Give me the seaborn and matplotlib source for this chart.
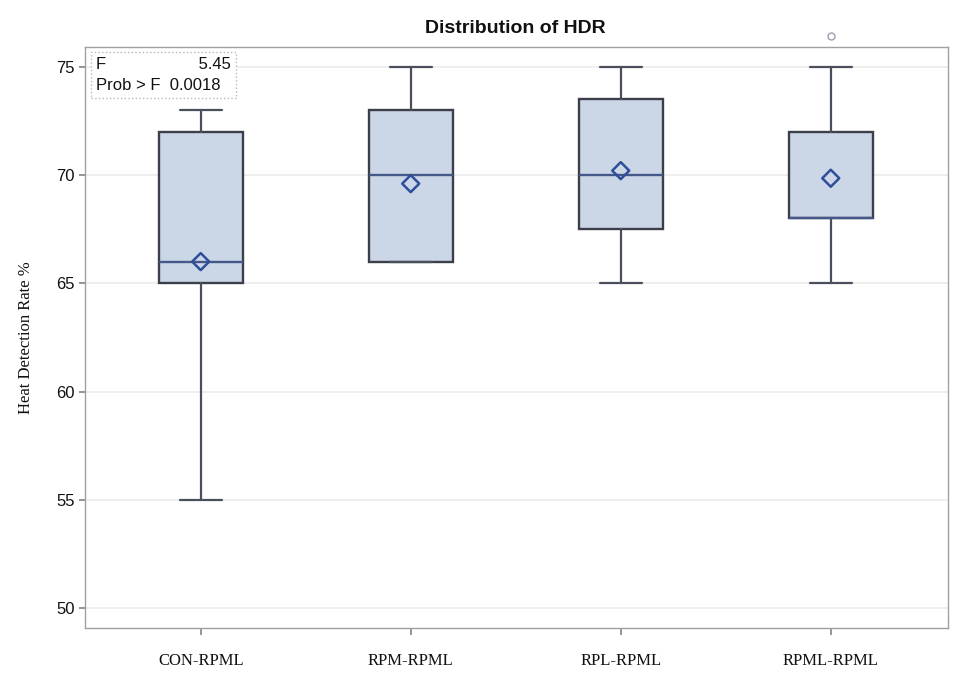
import numpy as np
import pandas as pd
import matplotlib
matplotlib.use('Agg')
import matplotlib.pyplot as plt
import seaborn as sns

# summary values
groups = ['CON-RPML', 'RPM-RPML', 'RPL-RPML', 'RPML-RPML']
whisker_low = [55, 66, 65, 65]
q1 = [65, 66, 67.5, 68]
median = [66, 70, 70, 68]
q3 = [72, 73, 73.5, 72]
whisker_high = [73, 75, 75, 75]
means = [66.0, 69.6, 70.2, 69.85]
outliers = [[], [], [], [76.4]]

f_value = '5.45'
prob_f = '0.0018'

sns.set_theme(style='white')
plt.rcParams['text.color'] = '#111111'

fig = plt.figure(figsize=(9.57, 6.83), dpi=100)
ax = fig.add_axes([0.089, 0.0805, 0.902, 0.851])

stats = []
for i, g in enumerate(groups):
    stats.append(dict(label=g, whislo=whisker_low[i], q1=q1[i], med=median[i],
                      q3=q3[i], whishi=whisker_high[i], fliers=outliers[i]))

edge = '#4a4f5c'
ax.bxp(stats, positions=range(len(groups)), widths=0.4, patch_artist=True,
       showfliers=True, manage_ticks=False,
       boxprops=dict(facecolor='#cbd6e6', edgecolor='#3c3f4a', linewidth=1.7),
       medianprops=dict(color='#44598a', linewidth=1.7),
       whiskerprops=dict(color=edge, linewidth=1.6),
       capprops=dict(color=edge, linewidth=1.6),
       capwidths=0.2,
       flierprops=dict(marker='o', markersize=5, markerfacecolor='none',
                       markeredgecolor='#9aa0ab', markeredgewidth=1.0))
for art in ax.lines:
    art.set_clip_on(False)

mean_df = pd.DataFrame({'pos': np.arange(len(groups)), 'mean': means})
sns.scatterplot(data=mean_df, x='pos', y='mean', marker='D', s=75,
                facecolor='none', edgecolor='#2f4e9a', linewidth=1.8,
                ax=ax, zorder=5, legend=False)

ax.set_xlim(-0.55, 3.56)
ax.set_ylim(49.08, 75.92)
ax.set_yticks([50, 55, 60, 65, 70, 75])
ax.set_xticks(range(len(groups)))
ax.set_xticklabels(groups, family='Liberation Serif', fontsize=12,
                   color='#111111')
ax.tick_params(axis='y', labelsize=12, length=4, color='#888888', left=True,
               labelcolor='#111111')
ax.tick_params(axis='x', length=5, color='#888888', bottom=True, pad=13)
for lab in ax.get_yticklabels():
    lab.set_family('Liberation Sans')
ax.yaxis.grid(True, color='#ebebeb', linewidth=1.2)
ax.set_axisbelow(True)
for sp in ax.spines.values():
    sp.set_color('#a0a0a0')
    sp.set_linewidth(1.0)

ax.set_xlabel('')
ax.set_ylabel('Heat Detection Rate %', family='Liberation Serif', fontsize=12,
              labelpad=16, color='#111111')
fig.text(0.538, 0.958, 'Distribution of HDR', ha='center', va='center',
         fontsize=14, fontweight='bold', family='Liberation Sans')

# statistics inset
ax.text(0.013, 0.982, f'F{"":20s}{f_value}\nProb > F  {prob_f}',
        transform=ax.transAxes, ha='left', va='top', fontsize=12,
        family='Liberation Sans', linespacing=1.45,
        bbox=dict(boxstyle='square,pad=0.3', facecolor='white',
                  edgecolor='#b8b8b8', linestyle=':'))

fig.savefig('out.png', dpi=100)
